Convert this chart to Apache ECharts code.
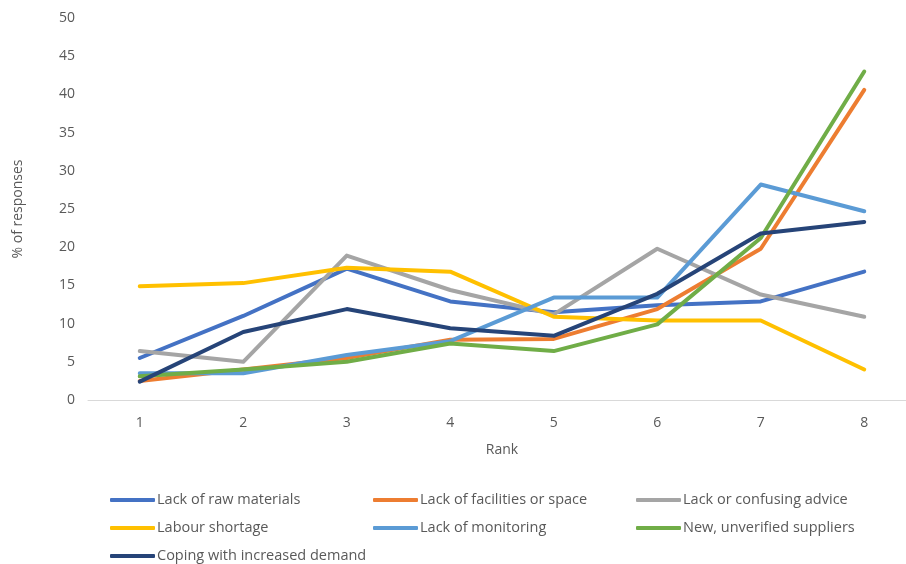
<!DOCTYPE html>
<html>
<head>
<meta charset="utf-8">
<script src="https://cdn.jsdelivr.net/npm/echarts@6/dist/echarts.min.js"></script>
<style>
  html, body { margin: 0; padding: 0; background: #ffffff; overflow: hidden; }
  #wrap { width: 906px; height: 564px; overflow: hidden; }
  /* plot area and last legend row run slightly past the visible frame */
  #chart { width: 920px; height: 600px; }
</style>
</head>
<body>
<div id="wrap"><div id="chart"></div></div>
<script>
// Rank categories on the x axis
const ranks = ['1', '2', '3', '4', '5', '6', '7', '8'];

// % of responses per rank for each barrier
const rawMaterials      = [5.5, 11.0, 17.2, 12.9, 11.5, 12.4, 12.9, 16.8];
const facilitiesSpace   = [2.5, 4.0, 5.5, 7.9, 8.0, 11.9, 19.8, 40.6];
const confusingAdvice   = [6.4, 5.0, 18.9, 14.4, 11.2, 19.8, 13.8, 10.9];
const labourShortage    = [14.9, 15.3, 17.3, 16.8, 10.9, 10.4, 10.4, 4.0];
const lackMonitoring    = [3.5, 3.5, 5.9, 7.7, 13.4, 13.4, 28.2, 24.7];
const newSuppliers      = [3.1, 4.0, 5.0, 7.4, 6.4, 9.9, 21.2, 43.0];
const increasedDemand   = [2.4, 8.9, 11.9, 9.4, 8.4, 13.9, 21.8, 23.3];

const seriesDefs = [
  { name: 'Lack of raw materials', data: rawMaterials, color: '#4472C4' },
  { name: 'Lack of facilities or space', data: facilitiesSpace, color: '#ED7D31' },
  { name: 'Lack or confusing advice', data: confusingAdvice, color: '#A5A5A5' },
  { name: 'Labour shortage', data: labourShortage, color: '#FFC000' },
  { name: 'Lack of monitoring', data: lackMonitoring, color: '#5B9BD5' },
  { name: 'New, unverified suppliers', data: newSuppliers, color: '#70AD47' },
  { name: 'Coping with increased demand', data: increasedDemand, color: '#264478' }
];

const textColor = '#595959';
const fontFamily = '"Open Sans", "Noto Sans", sans-serif';

// Three legend columns, laid out as in a spreadsheet chart legend
function legendColumn(left, names) {
  return {
    orient: 'vertical',
    left: left,
    top: 486,
    height: 100,
    itemGap: 10,
    itemWidth: 45,
    itemHeight: 4,
    icon: 'roundRect',
    data: names,
    textStyle: {
      color: textColor, fontSize: 14.5, lineHeight: 18,
      fontFamily: fontFamily, padding: [0, 0, 0, -3]
    },
    selectedMode: false
  };
}

const chart = echarts.init(document.getElementById('chart'), null, { renderer: 'canvas' });

chart.setOption({
  animation: false,
  backgroundColor: '#ffffff',
  grid: { left: 88, top: 18, width: 828, height: 382, containLabel: false },
  legend: [
    legendColumn(105, ['Lack of raw materials', 'Labour shortage', 'Coping with increased demand']),
    legendColumn(368, ['Lack of facilities or space', 'Lack of monitoring']),
    legendColumn(631, ['Lack or confusing advice', 'New, unverified suppliers'])
  ],
  xAxis: {
    type: 'category',
    data: ranks,
    boundaryGap: true,
    name: 'Rank',
    nameLocation: 'middle',
    nameGap: 43,
    nameTextStyle: { color: textColor, fontSize: 14, fontFamily: fontFamily },
    axisLine: { lineStyle: { color: '#D9D9D9', width: 1 } },
    axisTick: { show: false },
    axisLabel: { color: textColor, fontSize: 14, fontFamily: fontFamily, margin: 16 },
    splitLine: { show: false }
  },
  yAxis: {
    type: 'value',
    min: 0,
    max: 50,
    interval: 5,
    name: '% of responses',
    nameLocation: 'middle',
    nameGap: 63,
    nameRotate: 90,
    nameTextStyle: { color: textColor, fontSize: 14, fontFamily: fontFamily },
    axisLine: { show: false },
    axisTick: { show: false },
    axisLabel: { color: textColor, fontSize: 14, fontFamily: fontFamily, margin: 13 },
    splitLine: { show: false }
  },
  series: seriesDefs.map(s => ({
    name: s.name,
    type: 'line',
    data: s.data,
    showSymbol: false,
    symbol: 'none',
    color: s.color,
    lineStyle: { color: s.color, width: 4, cap: 'round', join: 'round' },
    emphasis: { disabled: true }
  }))
});
</script>
</body>
</html>
